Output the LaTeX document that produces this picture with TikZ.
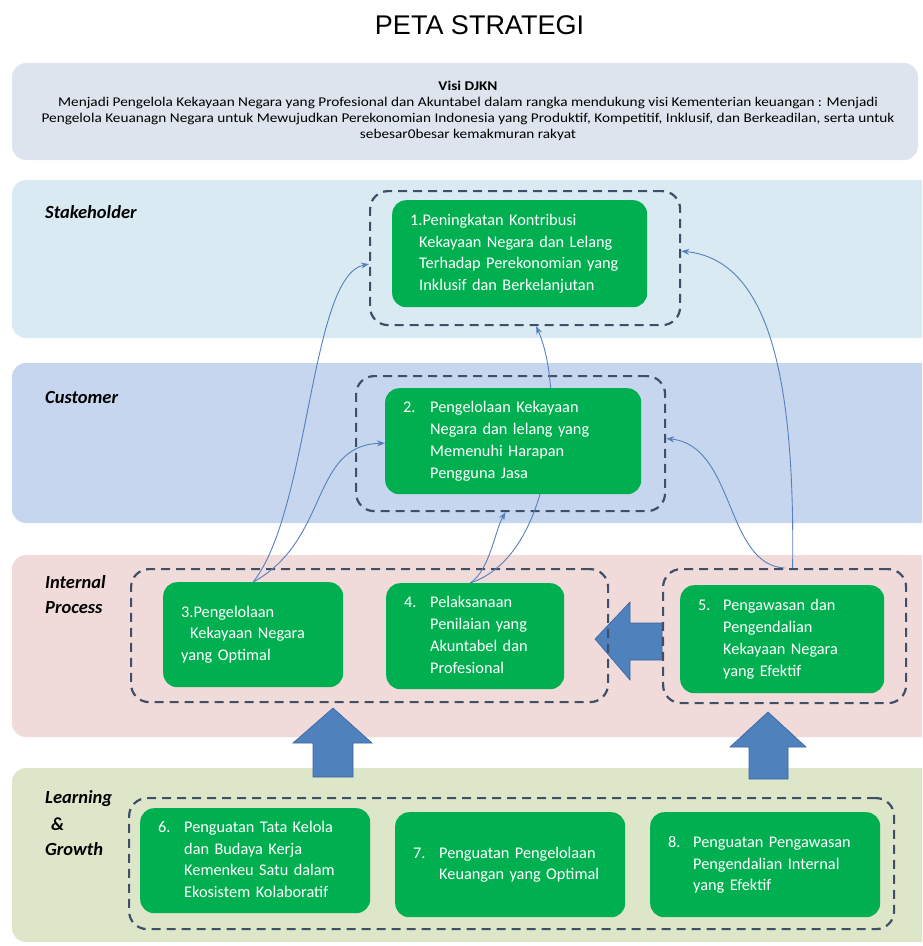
\documentclass[tikz,border=0pt]{standalone}
\usepackage{fontspec}
\setmainfont{Carlito}
\newfontfamily\titlefont{Liberation Sans}
\newfontfamily\visifont[FakeStretch=1.14]{Carlito}
\usetikzlibrary{arrows.meta}
\definecolor{visibg}{HTML}{DDE4EE}
\definecolor{stakebg}{HTML}{DAEAF2}
\definecolor{custbg}{HTML}{C6D6EE}
\definecolor{intbg}{HTML}{F1DADA}
\definecolor{learnbg}{HTML}{DEE6CA}
\definecolor{boxgreen}{HTML}{00B050}
\definecolor{dashc}{HTML}{3F4F68}
\definecolor{linkc}{HTML}{5580BD}
\definecolor{bigarr}{HTML}{4F81BD}
\definecolor{bigarrline}{HTML}{3A64A0}
\pgfdeclarelayer{bands}
\pgfdeclarelayer{links}
\pgfsetlayers{bands,links,main}
\begin{document}
\begin{tikzpicture}[x=1pt,y=-1pt,
  band/.style={fill=#1,draw=none,rounded corners=14pt},
  dbox/.style={draw=dashc,line width=2.2pt,dash pattern=on 9pt off 6pt,rounded corners=18pt,anchor=north west,inner sep=0pt},
  gbox/.style={fill=boxgreen,draw=none,rounded corners=14pt,text=white,anchor=north west,align=left,
    font=\fontsize{16.3}{21.8}\selectfont,inner xsep=18pt,inner ysep=0pt},
  lbl/.style={anchor=north west,align=left,inner sep=0pt,font=\fontsize{18.5}{25.5}\selectfont\bfseries\itshape},
  link/.style={draw=linkc,line width=0.9pt,-{Stealth[length=8pt,width=6pt]}},
  bigarrow/.style={fill=bigarr,draw=bigarrline,line width=0.6pt,line join=miter}]
\useasboundingbox (0,0) rectangle (922,946);

\node[font=\titlefont\fontsize{27}{30}\selectfont] (title) at (479.5,25) {PETA STRATEGI};

\begin{pgfonlayer}{bands}
\begin{scope}
\clip (0,0) rectangle (922,946);
\fill[band=visibg] (12,63) rectangle (918,160);
\fill[band=stakebg] (12,180) rectangle (940,338);
\fill[band=custbg] (12,363) rectangle (940,523);
\fill[band=intbg] (12,555) rectangle (940,737);
\fill[band=learnbg] (12,768) rectangle (940,942);
\end{scope}

\draw[bigarrow] (595,639) -- (630,602) -- (630,623) -- (662,623) -- (662,660) -- (630,660) -- (630,680) -- cycle;
\draw[bigarrow] (333,708) -- (372,743) -- (353,743) -- (353,777) -- (313,777) -- (313,743) -- (293,743) -- cycle;
\draw[bigarrow] (768,712) -- (806,747) -- (788,747) -- (788,779) -- (749,779) -- (749,747) -- (730,747) -- cycle;

\node[dbox,minimum width=310pt,minimum height=134pt] (d1) at (369,190) {};
\node[dbox,minimum width=309pt,minimum height=135pt] (d2) at (355,375) {};
\node[dbox,minimum width=477pt,minimum height=133pt] (da) at (130,568) {};
\node[dbox,minimum width=243pt,minimum height=134pt] (db) at (662,568) {};
\node[dbox,minimum width=765pt,minimum height=131pt] (dl) at (128,797) {};

\node[lbl,anchor=west] (ls) at (45,212) {Stakeholder};
\node[lbl,anchor=west] (lc) at (45,397) {Customer};
\node[lbl] (li) at (45,575) {Internal\\Process};
\node[lbl] (ll) at (45,790) {Learning\\[1.5pt]\hspace*{6pt}\&\\Growth};
\end{pgfonlayer}

\node[align=center,inner sep=0pt,font=\visifont\fontsize{13.4}{16}\selectfont] (visi) at (468,111) {%
\textbf{Visi DJKN}\\
Menjadi Pengelola Kekayaan Negara yang Profesional dan Akuntabel dalam rangka mendukung visi Kementerian keuangan : Menjadi\\
Pengelola Keuanagn Negara untuk Mewujudkan Perekonomian Indonesia yang Produktif, Kompetitif, Inklusif, dan Berkeadilan, serta untuk\\
sebesar0besar kemakmuran rakyat};

\node[gbox,minimum width=255pt,minimum height=107pt,text width=219pt] (g1) at (392,200) {%
1.Peningkatan Kontribusi\\
\hspace*{9pt}Kekayaan Negara dan Lelang\\
\hspace*{9pt}Terhadap Perekonomian yang\\
\hspace*{9pt}Inklusif dan Berkelanjutan};
\node[gbox,minimum width=256pt,minimum height=106pt,text width=220pt] (g2) at (385,388) {%
\begin{tabular}{@{}p{27pt}@{}l@{}}2. & Pengelolaan Kekayaan\\ & Negara dan lelang yang\\ & Memenuhi Harapan\\ & Pengguna Jasa\end{tabular}};
\node[gbox,minimum width=180pt,minimum height=105pt,text width=144pt] (g3) at (163,582) {%
3.Pengelolaan\\
\hspace*{9pt}Kekayaan Negara\\
yang Optimal};
\node[gbox,minimum width=178pt,minimum height=106pt,text width=142pt] (g4) at (386,583) {%
\begin{tabular}{@{}p{26pt}@{}l@{}}4. & Pelaksanaan\\ & Penilaian yang\\ & Akuntabel dan\\ & Profesional\end{tabular}};
\node[gbox,minimum width=204pt,minimum height=108pt,text width=168pt] (g5) at (680,585) {%
\begin{tabular}{@{}p{25pt}@{}l@{}}5. & Pengawasan dan\\ & Pengendalian\\ & Kekayaan Negara\\ & yang Efektif\end{tabular}};
\node[gbox,minimum width=230pt,minimum height=105pt,text width=194pt] (g6) at (140,808) {%
\begin{tabular}{@{}p{26pt}@{}l@{}}6. & Penguatan Tata Kelola\\ & dan Budaya Kerja\\ & Kemenkeu Satu dalam\\ & Ekosistem Kolaboratif\end{tabular}};
\node[gbox,minimum width=230pt,minimum height=105pt,text width=194pt] (g7) at (395,812) {%
\begin{tabular}{@{}p{26pt}@{}l@{}}7. & Penguatan Pengelolaan\\ & Keuangan yang Optimal\end{tabular}};
\node[gbox,minimum width=230pt,minimum height=105pt,text width=194pt] (g8) at (650,812) {%
\begin{tabular}{@{}p{25pt}@{}l@{}}8. & Penguatan Pengawasan\\ & Pengendalian Internal\\ & yang Efektif\end{tabular}};

\begin{pgfonlayer}{links}
\draw[link] (g3.north) .. controls (310,510) and (310,275) .. ([yshift=-6pt]d1.west);
\draw[link] (g3.north) .. controls (330,540) and (310,445) .. ([yshift=-2pt]g2.west);
\draw[link] ([xshift=-5pt]g4.north) .. controls (490,570) and (495,530) .. ([xshift=-5pt]d2.south);
\draw[link] ([xshift=-5pt]g4.north) .. controls (555,555) and (565,390) .. ([xshift=11pt]d1.south);
\draw[link] (db.north) .. controls (725,565) and (735,445) .. ([yshift=5pt]d2.east);
\draw[link] ([xshift=8pt]db.north) .. controls (795,380) and (770,260) .. ([yshift=7pt]d1.east);
\end{pgfonlayer}
\end{tikzpicture}
\end{document}
